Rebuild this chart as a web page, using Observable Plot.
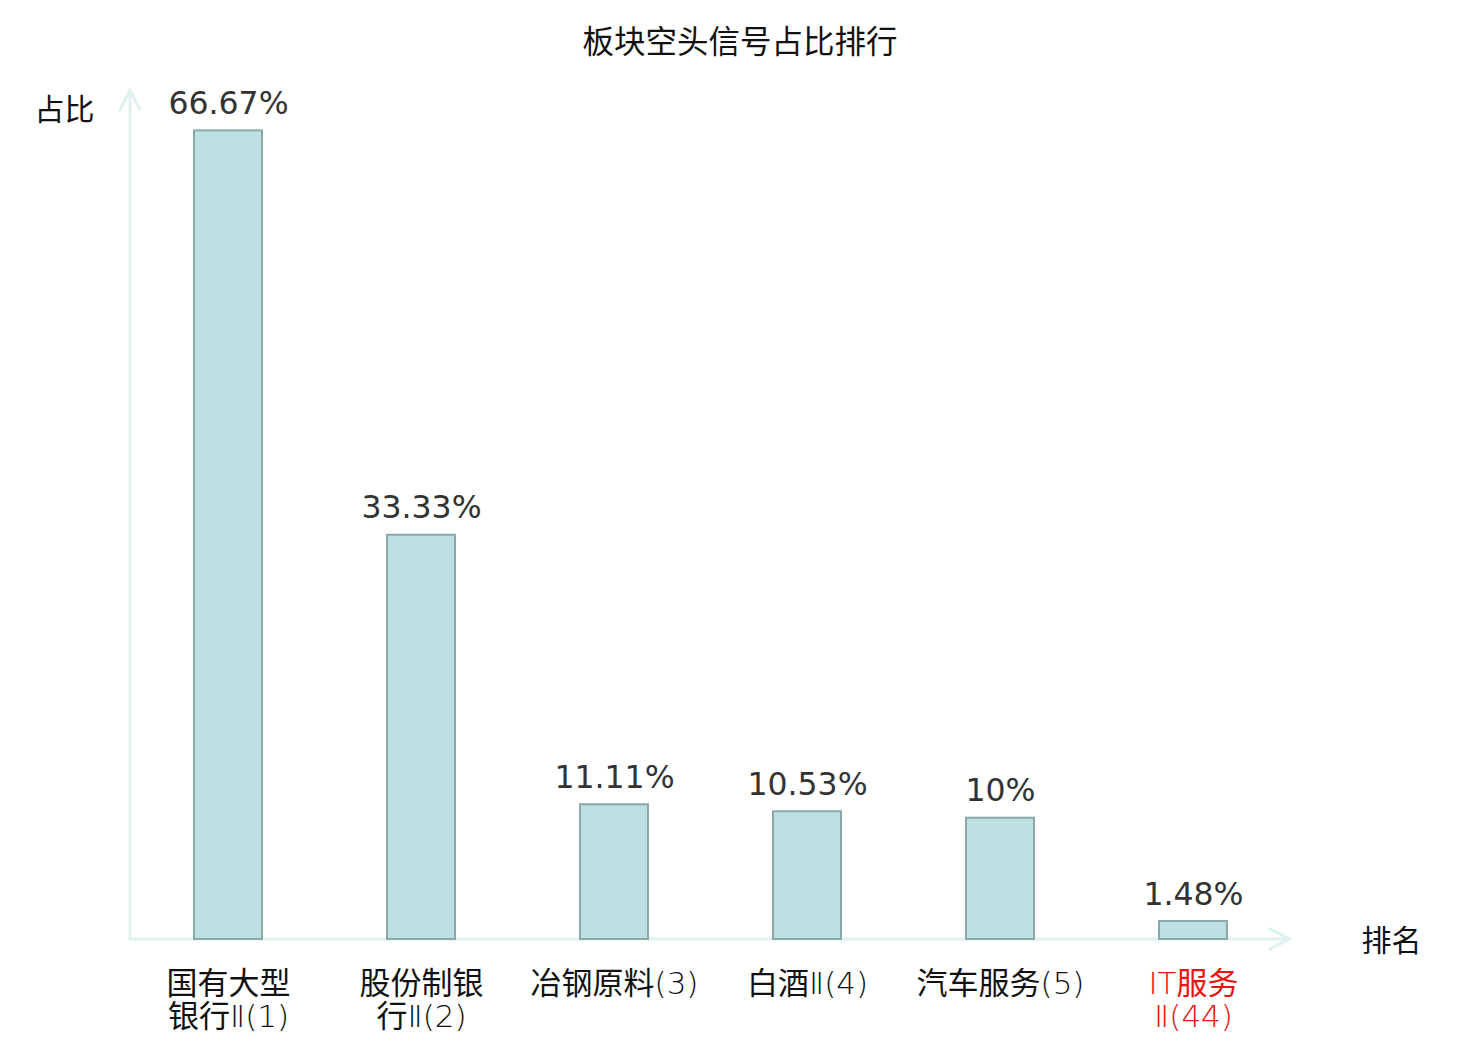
<!DOCTYPE html>
<html>
<head>
<meta charset="utf-8">
<script src="https://cdn.jsdelivr.net/npm/d3@7"></script>
<script src="https://cdn.jsdelivr.net/npm/@observablehq/plot@0.6"></script>
<style>
  body { margin: 0; background: #fff; font-family: "DejaVu Sans", "Noto Sans CJK SC", sans-serif; }
  #wrap { position: relative; width: 1480px; height: 1040px; }
  #title { position: absolute; left: 0; top: 26px; width: 1480px; text-align: center; font-size: 31.5px; line-height: 32px; color: #111; }
  #chart { position: absolute; left: 0; top: 0; }
</style>
</head>
<body>
<div id="wrap">
  <div id="chart"></div>
  <div id="title">板块空头信号占比排行</div>
</div>
<script>
const categories = ["国有大型\n银行Ⅱ(1)", "股份制银\n行Ⅱ(2)", "冶钢原料(3)", "白酒Ⅱ(4)", "汽车服务(5)", "IT服务\nⅡ(44)"];
const values = [66.67, 33.33, 11.11, 10.53, 10, 1.48];
const valueLabels = ["66.67%", "33.33%", "11.11%", "10.53%", "10%", "1.48%"];
const highlight = "IT服务\nⅡ(44)";
const yLabel = "占比";
const xLabel = "排名";

const data = categories.map((c, i) => ({name: c, value: values[i], label: valueLabels[i]}));

const axisColor = "#dff2ef";
const font = "DejaVu Sans, Noto Sans CJK SC, sans-serif";

function axesMark(index, scales, values, dims) {
  const g = d3.create("svg:g").attr("fill", "none").attr("stroke", axisColor)
    .attr("stroke-width", 3).attr("stroke-linecap", "round").attr("stroke-linejoin", "round");
  const x0 = dims.marginLeft, x1 = dims.width - dims.marginRight;
  const y0 = dims.height - dims.marginBottom, y1 = dims.marginTop;
  g.append("path").attr("d", `M${x0},${y0}H${x1}`);
  g.append("path").attr("d", `M${x1 - 20},${y0 - 10}L${x1},${y0}L${x1 - 20},${y0 + 10}`);
  g.append("path").attr("d", `M${x0},${y0}V${y1}`);
  g.append("path").attr("d", `M${x0 - 10},${y1 + 20}L${x0},${y1}L${x0 + 10},${y1 + 20}`);
  return g.node();
}

const chart = Plot.plot({
  width: 1480,
  height: 1040,
  marginLeft: 130,
  marginRight: 190,
  marginTop: 90,
  marginBottom: 101,
  style: {fontFamily: font, background: "transparent"},
  x: {domain: categories, paddingInner: 0.65, paddingOuter: 0.325, axis: null},
  y: {domain: [0, 70], axis: null},
  marks: [
    axesMark,
    Plot.barY(data, {x: "name", y: "value", fill: "#bde0e3", stroke: "#8aa8a9", strokeWidth: 2}),
    Plot.text(data, {x: "name", y: "value", text: "label", lineAnchor: "bottom", dy: -17,
      fontSize: 31.5, fill: "#333"}),
    Plot.text(data, {x: "name", frameAnchor: "bottom", text: "name", lineAnchor: "top", dy: 31,
      lineHeight: 1.06, fontSize: 31, fontWeight: 200, className: "xlab",
      fill: d => d.name === highlight ? "#e8140f" : "#111"}),
    Plot.text([yLabel], {frameAnchor: "top-left", dx: -66, dy: 20, textAnchor: "middle", lineAnchor: "middle",
      fontSize: 30, fill: "#111"}),
    Plot.text([xLabel], {frameAnchor: "bottom-right", dx: 101, dy: 2, textAnchor: "middle", lineAnchor: "middle",
      fontSize: 30, fill: "#111"})
  ]
});

// CJK glyphs in the category labels at regular weight, Latin parts extra-light
const cjk = /([\u3400-\u9fff]+)/;
chart.querySelectorAll(".xlab text").forEach(t => {
  const walker = document.createTreeWalker(t, NodeFilter.SHOW_TEXT);
  const nodes = [];
  while (walker.nextNode()) nodes.push(walker.currentNode);
  nodes.forEach(n => {
    const parts = n.nodeValue.split(cjk).filter(s => s.length);
    const frag = document.createDocumentFragment();
    parts.forEach(p => {
      const ts = document.createElementNS("http://www.w3.org/2000/svg", "tspan");
      ts.textContent = p;
      if (cjk.test(p)) ts.setAttribute("font-weight", "400");
      frag.appendChild(ts);
    });
    n.parentNode.replaceChild(frag, n);
  });
});

document.getElementById("chart").appendChild(chart);
</script>
</body>
</html>
